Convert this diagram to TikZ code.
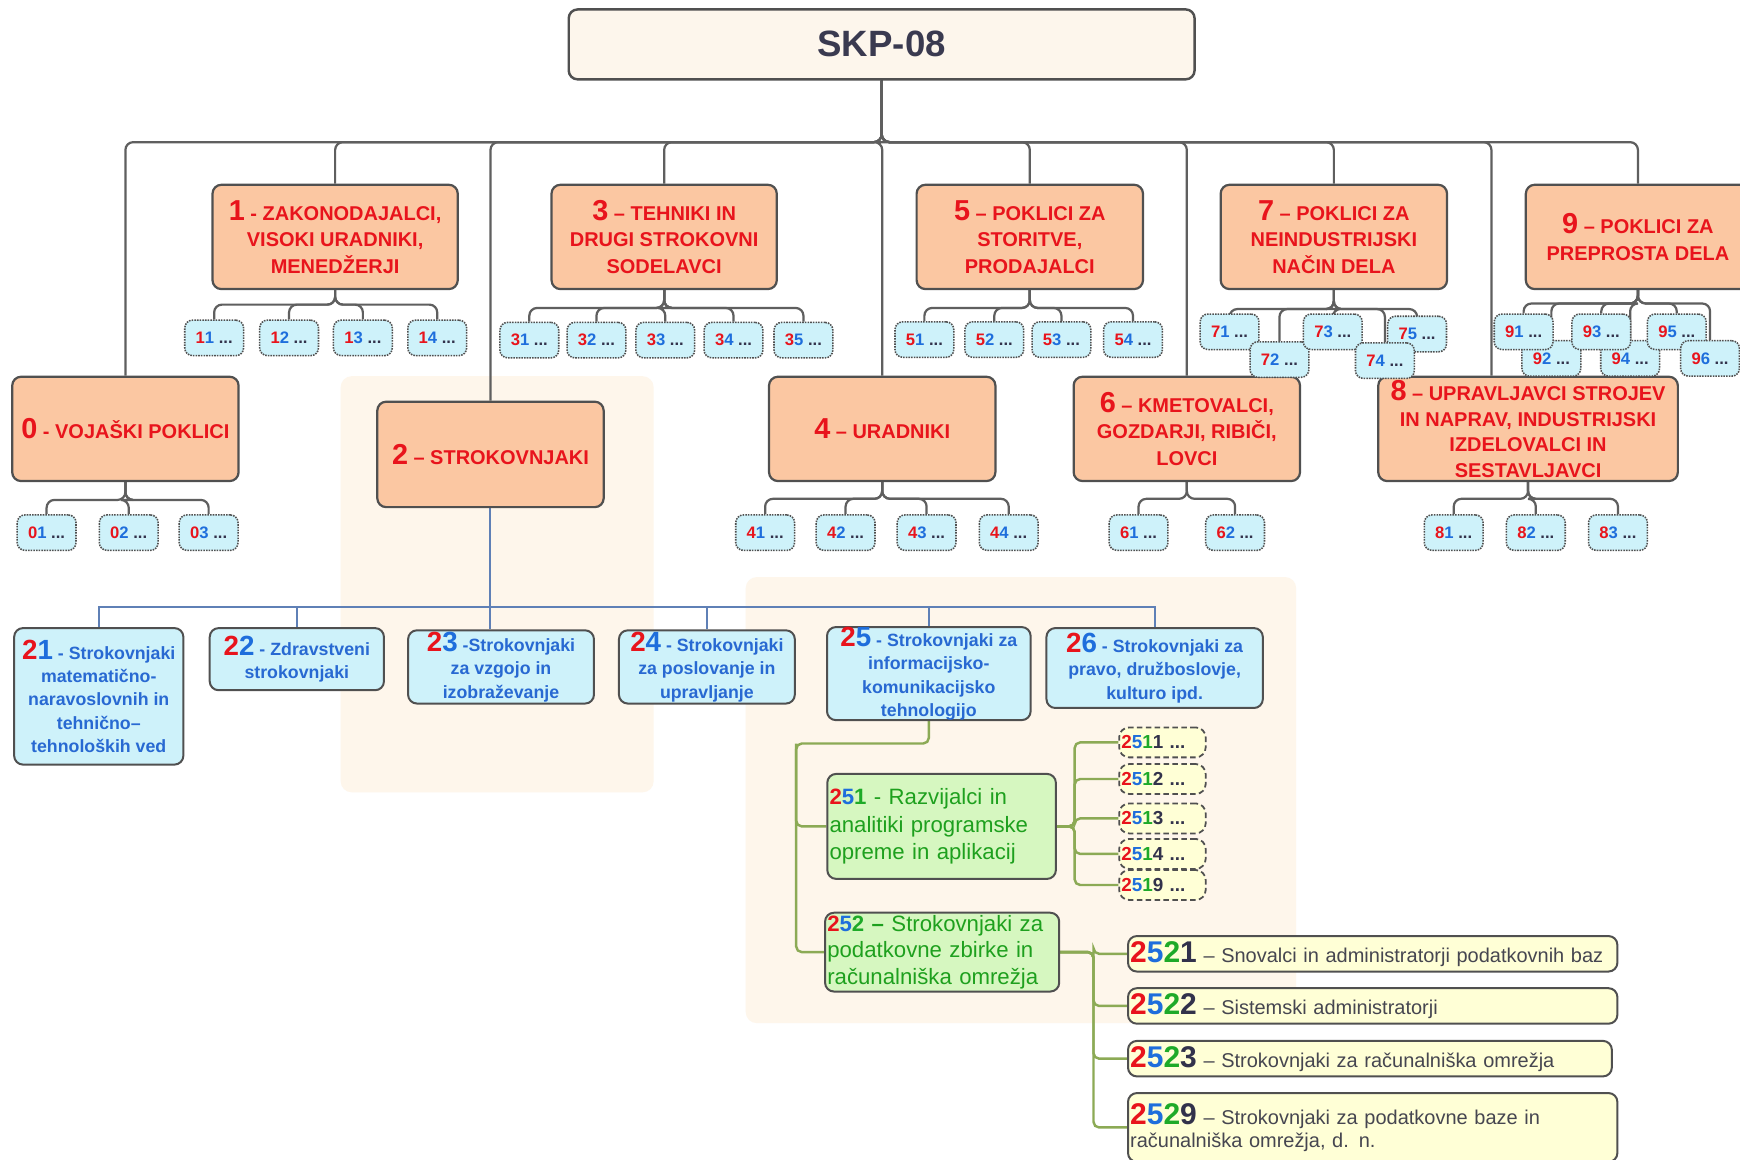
\documentclass[tikz,border=0pt]{standalone}
\usepackage{fontspec}
\setmainfont{Liberation Sans}
\usetikzlibrary{calc}
\definecolor{numred}{RGB}{232,20,28}
\definecolor{numblue}{RGB}{30,110,220}
\definecolor{txtblue}{RGB}{40,105,210}
\definecolor{numgreen}{RGB}{30,170,40}
\definecolor{txtgreen}{RGB}{30,160,30}
\definecolor{darkdig}{RGB}{50,50,75}
\definecolor{graytxt}{RGB}{70,70,80}
\definecolor{roottxt}{RGB}{58,58,80}
\definecolor{orangef}{RGB}{251,199,162}
\definecolor{cyanf}{RGB}{206,242,250}
\definecolor{greenf}{RGB}{214,247,192}
\definecolor{yellowf}{RGB}{255,255,214}
\definecolor{panelf}{RGB}{254,246,235}
\definecolor{rootf}{RGB}{253,246,236}
\definecolor{bordc}{RGB}{80,80,80}
\definecolor{connc}{RGB}{95,95,95}
\definecolor{bconnc}{RGB}{95,128,182}
\definecolor{gconnc}{RGB}{140,170,85}
\newcommand{\bignum}[1]{{\fontsize{26}{24}\selectfont #1}}
\newcommand{\smlab}[2]{\textcolor{numred}{#1}\textcolor{numblue}{#2}~\textcolor{darkdig}{...}}
\newcommand{\twonum}[2]{{\fontsize{25}{21}\selectfont\textcolor{numred}{#1}\textcolor{numblue}{#2}}}
\newcommand{\threed}[3]{\textcolor{numred}{#1}\textcolor{numblue}{#2}\textcolor{numgreen}{#3}}
\newcommand{\fourdig}[4]{\textcolor{numred}{#1}\textcolor{numblue}{#2}\textcolor{numgreen}{#3}\textcolor{darkdig}{#4}}
\newcommand{\bigfour}[4]{{\fontsize{27}{25}\selectfont\bfseries\fourdig{#1}{#2}{#3}{#4}}}
\newcommand{\dlab}[4]{\fourdig{#1}{#2}{#3}{#4}~\textcolor{darkdig}{...}}
\pgfdeclarelayer{panels}
\pgfdeclarelayer{lines}
\pgfsetlayers{panels,lines,main}
\tikzset{
  rootbox/.style={draw=bordc, line width=2.2pt, fill=rootf, rounded corners=8pt, inner sep=0pt,
    minimum width=564pt, minimum height=63pt, text=roottxt, font=\fontsize{33}{33}\selectfont\bfseries},
  mainbox/.style={draw=bordc, line width=2pt, fill=orangef, rounded corners=8pt, inner sep=0pt,
    align=center, text=numred, font=\fontsize{18}{24}\selectfont\bfseries, minimum height=94pt},
  smallbox/.style={draw=bordc, densely dotted, line width=1.4pt, fill=cyanf, rounded corners=7pt,
    minimum width=53pt, minimum height=32pt, inner sep=0pt, font=\fontsize{15}{15}\selectfont\bfseries},
  ltwobox/.style={draw=bordc, line width=1.8pt, fill=cyanf, rounded corners=8pt, inner sep=0pt,
    align=center, text=txtblue, font=\fontsize{16}{21}\selectfont\bfseries},
  gbox/.style={draw=bordc, line width=1.8pt, fill=greenf, rounded corners=8pt, inner xsep=2pt, inner ysep=0pt,
    align=left, text=txtgreen},
  dbox/.style={draw=bordc, dash pattern=on 5pt off 3pt, line width=1.6pt, fill=yellowf, rounded corners=9pt,
    minimum width=78pt, minimum height=27pt, inner xsep=2pt, inner ysep=0pt, text width=74pt, align=left,
    font=\fontsize{17}{17}\selectfont\bfseries},
  ybox/.style={draw=bordc, line width=1.8pt, fill=yellowf, rounded corners=8pt, inner xsep=2pt, inner ysep=0pt,
    align=left, text=graytxt, font=\fontsize{18}{21}\selectfont},
  panel/.style={fill=panelf, rounded corners=10pt, inner sep=0pt},
  conn/.style={draw=connc, line width=2pt, rounded corners=7pt},
  bconn/.style={draw=bconnc, line width=1.8pt},
  gconn/.style={draw=gconnc, line width=2.2pt, rounded corners=5pt},
}
\begin{document}
\begin{tikzpicture}[x=1pt,y=-1pt]
\useasboundingbox (0,0) rectangle (1568,1044.5);
\begin{pgfonlayer}{panels}
\fill[white] (0,0) rectangle (1568,1044.5);
\node[panel, minimum width=282pt, minimum height=375pt] (panelA) at (448,526.5) {};
\node[panel, minimum width=496pt, minimum height=402pt] (panelB) at (920,721) {};
\end{pgfonlayer}

% root
\node[rootbox] (root) at (794.5,40) {SKP-08};

% main boxes
\node[mainbox, minimum width=204pt] (b0) at (113,386.5) {\bignum{0} - VOJAŠKI POKLICI};
\node[mainbox, minimum width=221pt] (b1) at (302,213.5) {\bignum{1} - ZAKONODAJALCI,\\VISOKI URADNIKI,\\MENEDŽERJI};
\node[mainbox, minimum width=204pt, minimum height=95pt] (b2) at (442,409.5) {\bignum{2} – STROKOVNJAKI};
\node[mainbox, minimum width=203pt] (b3) at (598.5,213.5) {\bignum{3} – TEHNIKI IN\\DRUGI STROKOVNI\\SODELAVCI};
\node[mainbox, minimum width=204pt] (b4) at (795,386.5) {\bignum{4} – URADNIKI};
\node[mainbox, minimum width=204pt] (b5) at (928,213.5) {\bignum{5} – POKLICI ZA\\STORITVE,\\PRODAJALCI};
\node[mainbox, minimum width=204pt] (b6) at (1069.5,386.5) {\bignum{6} – KMETOVALCI,\\GOZDARJI, RIBIČI,\\LOVCI};
\node[mainbox, minimum width=204pt] (b7) at (1202,213.5) {\bignum{7} – POKLICI ZA\\NEINDUSTRIJSKI\\NAČIN DELA};
\node[mainbox, minimum width=270pt, font=\fontsize{18}{23}\selectfont\bfseries] (b8) at (1377,386.5) {\bignum{8} – UPRAVLJAVCI STROJEV\\IN NAPRAV, INDUSTRIJSKI\\IZDELOVALCI IN\\SESTAVLJAVCI};
\node[mainbox, minimum width=202pt] (b9) at (1476,213.5) {\bignum{9} – POKLICI ZA\\PREPROSTA DELA};

% small boxes
\node[smallbox] (s11) at (193,304.5) {\smlab{1}{1}};
\node[smallbox] (s12) at (260.5,304.5) {\smlab{1}{2}};
\node[smallbox] (s13) at (327,304.5) {\smlab{1}{3}};
\node[smallbox] (s14) at (394,304.5) {\smlab{1}{4}};
\node[smallbox] (s31) at (477,306.5) {\smlab{3}{1}};
\node[smallbox] (s32) at (537.5,306.5) {\smlab{3}{2}};
\node[smallbox] (s33) at (599.5,306.5) {\smlab{3}{3}};
\node[smallbox] (s34) at (661,306.5) {\smlab{3}{4}};
\node[smallbox] (s35) at (724,306.5) {\smlab{3}{5}};
\node[smallbox] (s51) at (833,306) {\smlab{5}{1}};
\node[smallbox] (s52) at (896,306) {\smlab{5}{2}};
\node[smallbox] (s53) at (956.5,306) {\smlab{5}{3}};
\node[smallbox] (s54) at (1021,306) {\smlab{5}{4}};
\node[smallbox] (s71) at (1108,299) {\smlab{7}{1}};
\node[smallbox] (s72) at (1153,324) {\smlab{7}{2}};
\node[smallbox] (s73) at (1201,299) {\smlab{7}{3}};
\node[smallbox] (s75) at (1277,301) {\smlab{7}{5}};
\node[smallbox] (s74) at (1248,325) {\smlab{7}{4}};
\node[smallbox] (s92) at (1398,323) {\smlab{9}{2}};
\node[smallbox] (s94) at (1469,323) {\smlab{9}{4}};
\node[smallbox] (s91) at (1373,299) {\smlab{9}{1}};
\node[smallbox] (s93) at (1443,299) {\smlab{9}{3}};
\node[smallbox] (s95) at (1511,299) {\smlab{9}{5}};
\node[smallbox] (s96) at (1541,323) {\smlab{9}{6}};
\node[smallbox] (s01) at (42,480) {\smlab{0}{1}};
\node[smallbox] (s02) at (116,480) {\smlab{0}{2}};
\node[smallbox] (s03) at (188,480) {\smlab{0}{3}};
\node[smallbox] (s41) at (689.5,480) {\smlab{4}{1}};
\node[smallbox] (s42) at (762,480) {\smlab{4}{2}};
\node[smallbox] (s43) at (835,480) {\smlab{4}{3}};
\node[smallbox] (s44) at (909,480) {\smlab{4}{4}};
\node[smallbox] (s61) at (1026,480) {\smlab{6}{1}};
\node[smallbox] (s62) at (1113,480) {\smlab{6}{2}};
\node[smallbox] (s81) at (1310,480) {\smlab{8}{1}};
\node[smallbox] (s82) at (1384,480) {\smlab{8}{2}};
\node[smallbox] (s83) at (1458,480) {\smlab{8}{3}};

% level 2
\node[ltwobox, minimum width=152.5pt, minimum height=123pt] (c21) at (89,627.5) {\twonum{2}{1} - Strokovnjaki\\matematično-\\naravoslovnih in\\tehnično–\\tehnoloških ved};
\node[ltwobox, minimum width=157pt, minimum height=56pt] (c22) at (267.5,594) {\twonum{2}{2} - Zdravstveni\\strokovnjaki};
\node[ltwobox, minimum width=167.5pt, minimum height=66pt] (c23) at (451.5,601) {\twonum{2}{3} -Strokovnjaki\\za vzgojo in\\izobraževanje};
\node[ltwobox, minimum width=158.5pt, minimum height=66pt] (c24) at (637,601) {\twonum{2}{4} - Strokovnjaki\\za poslovanje in\\upravljanje};
\node[ltwobox, minimum width=183.5pt, minimum height=83pt] (c25) at (837,607) {\twonum{2}{5} - Strokovnjaki za\\informacijsko-\\komunikacijsko\\tehnologijo};
\node[ltwobox, minimum width=195pt, minimum height=72pt] (c26) at (1040.5,602) {\twonum{2}{6} - Strokovnjaki za\\pravo, družboslovje,\\kulturo ipd.};

% level 3
\node[gbox, minimum width=206pt, minimum height=94.6pt, text width=202pt, font=\fontsize{20}{25}\selectfont] (g251) at (848.5,744.7) {{\bfseries\threed{2}{5}{1}} - Razvijalci in\\analitiki programske\\opreme in aplikacij};
\node[gbox, minimum width=211pt, minimum height=71pt, text width=207pt, font=\fontsize{20}{24}\selectfont] (g252) at (849,858) {{\bfseries\threed{2}{5}{2} –} Strokovnjaki za\\podatkovne zbirke in\\računalniška omrežja};

\node[dbox] (d2511) at (1047.5,669) {\dlab{2}{5}{1}{1}};
\node[dbox] (d2512) at (1047.5,702) {\dlab{2}{5}{1}{2}};
\node[dbox] (d2513) at (1047.5,737.5) {\dlab{2}{5}{1}{3}};
\node[dbox] (d2514) at (1047.5,769.5) {\dlab{2}{5}{1}{4}};
\node[dbox] (d2519) at (1047.5,797.5) {\dlab{2}{5}{1}{9}};

\node[ybox, minimum width=441pt, minimum height=32pt, text width=437pt] (y2521) at (1237,859.5) {\bigfour{2}{5}{2}{1} – Snovalci in administratorji podatkovnih baz};
\node[ybox, minimum width=441pt, minimum height=32pt, text width=437pt] (y2522) at (1237,906.5) {\bigfour{2}{5}{2}{2} – Sistemski administratorji};
\node[ybox, minimum width=436pt, minimum height=32pt, text width=432pt] (y2523) at (1234.5,954) {\bigfour{2}{5}{2}{3} – Strokovnjaki za računalniška omrežja};
\node[ybox, minimum width=441pt, minimum height=62pt, text width=437pt] (y2529) at (1237,1016) {\bigfour{2}{5}{2}{9} – Strokovnjaki za podatkovne baze in\\računalniška omrežja, d. n.};

\begin{pgfonlayer}{lines}
% main tree
\foreach \b in {b0,b1,b2,b3,b4,b5,b6,b7,b9}
  \draw[conn] (root.south) -- ++(0,55.5) -| (\b.north);
\draw[conn] (root.south) -- ++(0,55.5) -| ($(b8.north)+(-33,0)$);
% groups
\foreach \s in {s11,s12,s13,s14} \draw[conn] (b1.south) -- ++(0,13) -| (\s.north);
\foreach \s in {s31,s32,s33,s34,s35} \draw[conn] (b3.south) -- ++(0,16) -| (\s.north);
\foreach \s in {s51,s52,s53,s54} \draw[conn] (b5.south) -- ++(0,16) -| (\s.north);
\foreach \s in {s71,s72,s73,s74,s75} \draw[conn] (b7.south) -- ++(0,17) -| (\s.north);
\foreach \s in {s91,s92,s93,s94,s95,s96} \draw[conn] (b9.south) -- ++(0,12) -| (\s.north);
\foreach \s in {s01,s02,s03} \draw[conn] (b0.south) -- ++(0,16) -| (\s.north);
\foreach \s in {s41,s42,s43,s44} \draw[conn] (b4.south) -- ++(0,15) -| (\s.north);
\foreach \s in {s61,s62} \draw[conn] (b6.south) -- ++(0,15) -| (\s.north);
\foreach \s in {s81,s82,s83} \draw[conn] (b8.south) -- ++(0,15) -| (\s.north);
% level 2
\foreach \c in {c21,c22,c24,c25,c26} \draw[bconn] (b2.south) -- ++(0,89) -| (\c.north);
\draw[bconn] (b2.south) -- (b2.south |- c23.north);
% green
\coordinate (gt) at (717.5,670);
\draw[gconn] (c25.south) |- (gt) |- (g251.west);
\draw[gconn] (gt) |- (g252.west);
\foreach \d in {d2511,d2512,d2513,d2514,d2519} \draw[gconn] (g251.east) -- ++(16,0) |- (\d.west);
\foreach \y in {y2521,y2522,y2523,y2529} \draw[gconn] (g252.east) -- ++(30,0) |- (\y.west);
\end{pgfonlayer}
\end{tikzpicture}
\end{document}
